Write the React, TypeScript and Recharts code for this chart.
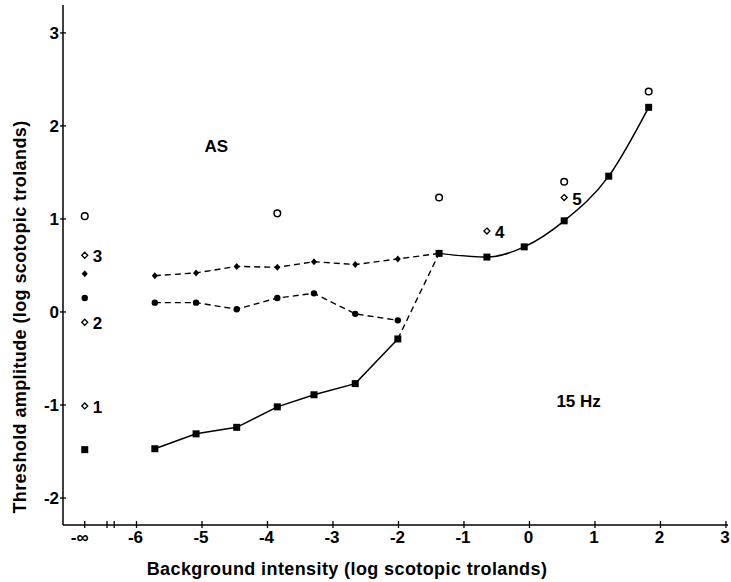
import React from 'react'
import { ComposedChart, Line, Scatter, XAxis, YAxis, ReferenceDot } from 'recharts'

// x position used for the "-∞" (no background) column
const NEG_INF = -6.79

// filled diamonds, dashed (last point is the junction with the squares)
const diamondX = [-5.72, -5.09, -4.47, -3.85, -3.29, -2.66, -2.01, -1.38]
const diamondY = [0.39, 0.42, 0.49, 0.48, 0.54, 0.51, 0.57, 0.63]

// filled circles, dashed
const dotX = [-5.72, -5.09, -4.47, -3.85, -3.29, -2.66, -2.01]
const dotY = [0.1, 0.1, 0.03, 0.15, 0.2, -0.02, -0.09]

// filled squares: solid low branch, dashed jump, solid high branch
const squareLowX = [-5.72, -5.09, -4.47, -3.85, -3.29, -2.66, -2.01]
const squareLowY = [-1.47, -1.31, -1.24, -1.02, -0.89, -0.77, -0.29]
const squareJumpX = [-2.01, -1.38]
const squareJumpY = [-0.29, 0.63]
const squareHighX = [-1.38, -0.65, -0.08, 0.53, 1.21, 1.82]
const squareHighY = [0.63, 0.59, 0.7, 0.98, 1.46, 2.2]

// open circles
const openCircleX = [NEG_INF, -3.85, -1.38, 0.53, 1.82]
const openCircleY = [1.03, 1.06, 1.23, 1.4, 2.37]

// open diamonds with their numbers
const openDiamondX = [NEG_INF, NEG_INF, NEG_INF, -0.65, 0.53]
const openDiamondY = [-1.01, -0.11, 0.61, 0.87, 1.23]
const openDiamondLabel = ['1', '2', '3', '4', '5']

// points measured without background
const noBgDiamondY = [0.41]
const noBgDotY = [0.15]
const noBgSquareY = [-1.48]

// axis ticks
const xTicks = [NEG_INF, -6.45, -6.34, -6, -5, -4, -3, -2, -1, 0, 1, 2, 3]
const xTickLabels = ['-∞', '', '', '-6', '-5', '-4', '-3', '-2', '-1', '0', '1', '2', '3']
const yTicks = [-2, -1, 0, 1, 2, 3]
const yTickLabels = ['-2', '-1', '0', '1', '2', '3']

// text annotations
const noteText = ['AS', '15 Hz']
const noteX = [-4.78, 0.75]
const noteY = [1.72, -1.02]

const zip = (xs: number[], ys: number[]) => xs.map((x, i) => ({ x, y: ys[i] }))

const FONT = "'Liberation Sans', Arial, Helvetica, sans-serif"

const XTick = (props: any) => {
	const { x, y, payload } = props
	const i = xTicks.indexOf(payload.value)
	const label = i >= 0 ? xTickLabels[i] : ''
	return (
		<g>
			<line x1={x} x2={x} y1={y - 4} y2={y + 3} stroke='#000' strokeWidth={1.3} />
			{label && (
				<text
					x={label === '-∞' ? x - 5 : x - 1}
					y={y + 18}
					textAnchor='middle'
					fontFamily={FONT}
					fontWeight='bold'
					fontSize={17}
					fill='#000'
				>
					{label}
				</text>
			)}
		</g>
	)
}

const YTick = (props: any) => {
	const { x, y, payload } = props
	const i = yTicks.indexOf(payload.value)
	return (
		<g>
			<line x1={x - 3} x2={x + 3} y1={y} y2={y} stroke='#000' strokeWidth={1.3} />
			<text
				x={x - 4}
				y={y + 6}
				textAnchor='end'
				fontFamily={FONT}
				fontWeight='bold'
				fontSize={17}
				fill='#000'
			>
				{yTickLabels[i]}
			</text>
		</g>
	)
}

const square = (cx: number, cy: number, key: any) => (
	<rect key={key} x={cx - 3.5} y={cy - 3.5} width={7} height={7} fill='#000' />
)
const disc = (cx: number, cy: number, key: any) => (
	<circle key={key} cx={cx} cy={cy} r={3.2} fill='#000' />
)
const smallDiamond = (cx: number, cy: number, key: any) => (
	<path
		key={key}
		d={`M${cx},${cy - 3.5}L${cx + 3},${cy}L${cx},${cy + 3.5}L${cx - 3},${cy}Z`}
		fill='#000'
	/>
)

const SquareDot = (p: any) => square(p.cx, p.cy, `s${p.index}`)
const DiscDot = (p: any) => disc(p.cx, p.cy, `c${p.index}`)
const DiamondDot = (p: any) =>
	p.index === diamondX.length - 1 ? <g key={`d${p.index}`} /> : smallDiamond(p.cx, p.cy, `d${p.index}`)

const OpenCircle = (p: any) => (
	<circle cx={p.cx} cy={p.cy} r={3.3} fill='#fff' stroke='#000' strokeWidth={1.5} />
)

const OpenDiamond = (p: any) => {
	const { cx, cy } = p
	return (
		<g>
			<path
				d={`M${cx},${cy - 3}L${cx + 3},${cy}L${cx},${cy + 3}L${cx - 3},${cy}Z`}
				fill='#fff'
				stroke='#000'
				strokeWidth={1.3}
			/>
			<text
				x={cx + 8}
				y={cy + 7}
				fontFamily={FONT}
				fontWeight='bold'
				fontSize={17}
				fill='#000'
			>
				{p.payload.label}
			</text>
		</g>
	)
}

const Note = (text: string) => (p: any) => (
	<text
		x={p.cx}
		y={p.cy}
		textAnchor='middle'
		fontFamily={FONT}
		fontWeight='bold'
		fontSize={17}
		fill='#000'
	>
		{text}
	</text>
)

const App = () => {
	const openDiamonds = openDiamondX.map((x, i) => ({
		x,
		y: openDiamondY[i],
		label: openDiamondLabel[i],
	}))

	return (
		<div style={{ position: 'absolute', left: 0, top: 0, background: '#fff' }}>
			<ComposedChart
				width={731}
				height={582}
				margin={{ top: 5, right: 3, bottom: 0, left: 13 }}
			>
				<XAxis
					type='number'
					dataKey='x'
					domain={[-7.122, 3.031]}
					allowDataOverflow
					ticks={xTicks}
					interval={0}
					tickSize={0}
					tickMargin={0}
					tickLine={false}
					tick={<XTick />}
					height={57}
					axisLine={{ stroke: '#000', strokeWidth: 1.5 }}
				/>
				<YAxis
					type='number'
					dataKey='y'
					domain={[-2.29, 3.3]}
					allowDataOverflow
					ticks={yTicks}
					interval={0}
					tickSize={0}
					tickMargin={0}
					tickLine={false}
					tick={<YTick />}
					width={50}
					axisLine={{ stroke: '#000', strokeWidth: 1.5 }}
				/>

				<Line
					data={zip(diamondX, diamondY)}
					dataKey='y'
					type='linear'
					stroke='#000'
					strokeWidth={1.4}
					strokeDasharray='6 4'
					dot={DiamondDot}
					activeDot={false}
					isAnimationActive={false}
				/>
				<Line
					data={zip(dotX, dotY)}
					dataKey='y'
					type='linear'
					stroke='#000'
					strokeWidth={1.4}
					strokeDasharray='6 4'
					dot={DiscDot}
					activeDot={false}
					isAnimationActive={false}
				/>
				<Line
					data={zip(squareJumpX, squareJumpY)}
					dataKey='y'
					type='linear'
					stroke='#000'
					strokeWidth={1.4}
					strokeDasharray='6 4'
					dot={false}
					activeDot={false}
					isAnimationActive={false}
				/>
				<Line
					data={zip(squareLowX, squareLowY)}
					dataKey='y'
					type='linear'
					stroke='#000'
					strokeWidth={1.5}
					dot={SquareDot}
					activeDot={false}
					isAnimationActive={false}
				/>
				<Line
					data={zip(squareHighX, squareHighY)}
					dataKey='y'
					type='monotone'
					stroke='#000'
					strokeWidth={1.5}
					dot={SquareDot}
					activeDot={false}
					isAnimationActive={false}
				/>

				<Scatter
					data={zip([NEG_INF], noBgDiamondY)}
					dataKey='y'
					shape={(p: any) => smallDiamond(p.cx, p.cy, 'nd')}
					isAnimationActive={false}
				/>
				<Scatter
					data={zip([NEG_INF], noBgDotY)}
					dataKey='y'
					shape={(p: any) => disc(p.cx, p.cy, 'nc')}
					isAnimationActive={false}
				/>
				<Scatter
					data={zip([NEG_INF], noBgSquareY)}
					dataKey='y'
					shape={(p: any) => square(p.cx, p.cy, 'ns')}
					isAnimationActive={false}
				/>
				<Scatter
					data={zip(openCircleX, openCircleY)}
					dataKey='y'
					shape={OpenCircle}
					isAnimationActive={false}
				/>
				<Scatter
					data={openDiamonds}
					dataKey='y'
					shape={OpenDiamond}
					isAnimationActive={false}
				/>

				{noteText.map((t, i) => (
					<ReferenceDot
						key={t}
						x={noteX[i]}
						y={noteY[i]}
						r={0}
						shape={Note(t)}
					/>
				))}

				<text
					x={347}
					y={575}
					textAnchor='middle'
					fontFamily={FONT}
					fontWeight='bold'
					fontSize={18}
					letterSpacing={0.4}
					fill='#000'
				>
					Background intensity (log scotopic trolands)
				</text>
				<text
					x={26}
					y={317}
					textAnchor='middle'
					transform='rotate(-90, 26, 317)'
					fontFamily={FONT}
					fontWeight='bold'
					fontSize={18}
					letterSpacing={0.4}
					fill='#000'
				>
					Threshold amplitude (log scotopic trolands)
				</text>
			</ComposedChart>
		</div>
	)
}

export default App
